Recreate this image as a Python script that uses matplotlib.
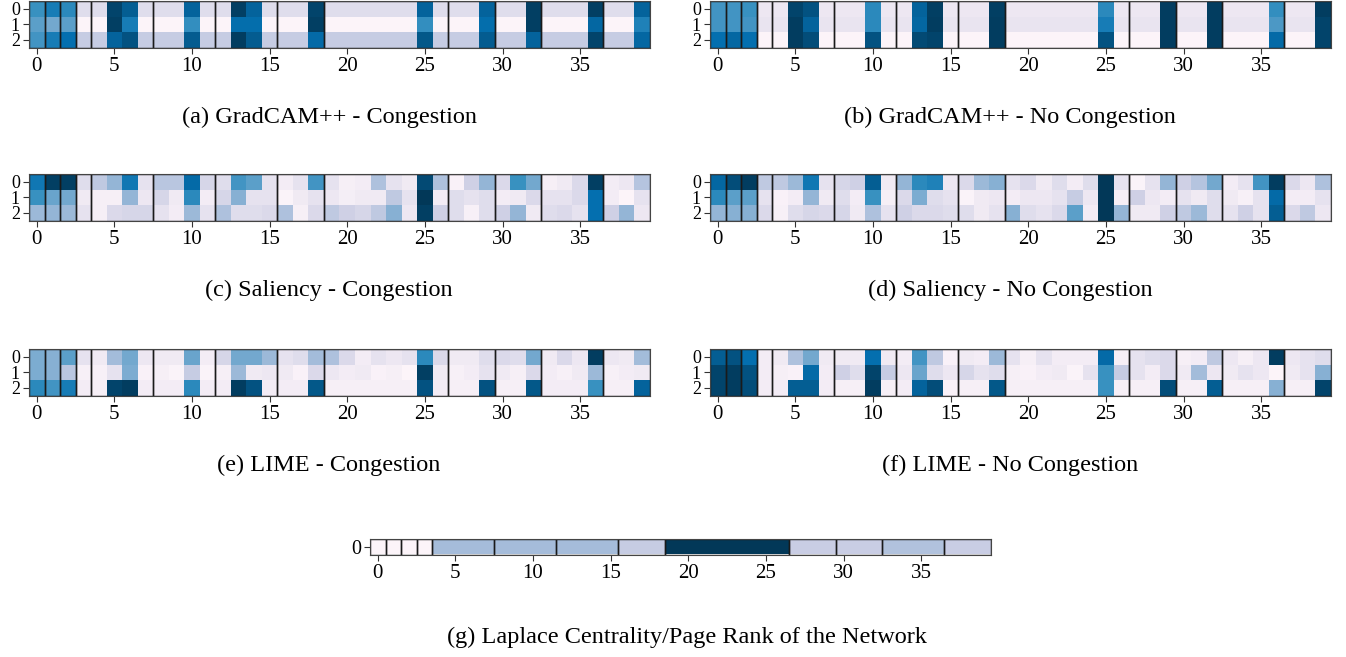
import matplotlib
matplotlib.use('Agg')
import matplotlib.pyplot as plt
import numpy as np
from matplotlib.patches import Rectangle

plt.rcParams['font.family'] = ['Liberation Serif', 'DejaVu Serif']

# node groups (first, last) used for the boxes
groups = [(0, 0), (1, 1), (2, 2), (3, 3), (4, 7), (8, 11), (12, 15), (16, 18),
          (19, 26), (27, 29), (30, 32), (33, 36), (37, 39)]

gradcam_cong = [
    [0.62, 0.70, 0.65, 0.18, 0.18, 0.95, 0.85, 0.18, 0.18, 0.18, 0.82, 0.18, 0.18, 0.97, 0.82, 0.18, 0.18, 0.18, 0.95, 0.18,
     0.18, 0.18, 0.18, 0.18, 0.18, 0.82, 0.18, 0.18, 0.18, 0.82, 0.18, 0.18, 0.97, 0.18, 0.18, 0.18, 0.97, 0.18, 0.18, 0.82],
    [0.55, 0.50, 0.55, 0.02, 0.02, 0.97, 0.70, 0.02, 0.02, 0.02, 0.63, 0.02, 0.02, 0.76, 0.76, 0.02, 0.02, 0.02, 0.97, 0.02,
     0.02, 0.02, 0.02, 0.02, 0.02, 0.63, 0.02, 0.02, 0.02, 0.76, 0.02, 0.02, 0.97, 0.02, 0.02, 0.02, 0.80, 0.02, 0.02, 0.68],
    [0.60, 0.70, 0.75, 0.28, 0.28, 0.82, 0.90, 0.28, 0.28, 0.28, 0.86, 0.28, 0.28, 0.98, 0.86, 0.28, 0.28, 0.28, 0.78, 0.28,
     0.28, 0.28, 0.28, 0.28, 0.28, 0.88, 0.28, 0.28, 0.28, 0.86, 0.28, 0.28, 0.82, 0.28, 0.28, 0.28, 0.95, 0.28, 0.28, 0.80],
]
gradcam_nocong = [
    [0.60, 0.60, 0.62, 0.12, 0.12, 0.95, 0.90, 0.12, 0.12, 0.12, 0.65, 0.12, 0.12, 0.82, 0.97, 0.12, 0.12, 0.12, 0.97, 0.12,
     0.12, 0.12, 0.12, 0.12, 0.12, 0.65, 0.12, 0.12, 0.12, 0.98, 0.12, 0.12, 0.98, 0.12, 0.12, 0.12, 0.63, 0.12, 0.12, 0.98],
    [0.60, 0.60, 0.60, 0.14, 0.14, 0.98, 0.82, 0.14, 0.14, 0.14, 0.65, 0.14, 0.14, 0.80, 0.98, 0.14, 0.14, 0.14, 0.98, 0.14,
     0.14, 0.14, 0.14, 0.14, 0.14, 0.70, 0.14, 0.14, 0.14, 0.98, 0.14, 0.14, 0.98, 0.14, 0.14, 0.14, 0.58, 0.14, 0.14, 0.95],
    [0.75, 0.80, 0.75, 0.02, 0.02, 0.98, 0.92, 0.02, 0.02, 0.02, 0.90, 0.02, 0.02, 0.93, 0.95, 0.02, 0.02, 0.02, 0.98, 0.02,
     0.02, 0.02, 0.02, 0.02, 0.02, 0.90, 0.02, 0.02, 0.02, 0.98, 0.02, 0.02, 0.98, 0.02, 0.02, 0.02, 0.78, 0.02, 0.02, 0.95],
]
saliency_cong = [
    [0.72, 0.97, 0.97, 0.18, 0.30, 0.42, 0.72, 0.15, 0.32, 0.32, 0.78, 0.22, 0.18, 0.60, 0.55, 0.15, 0.08, 0.15, 0.60, 0.15,
     0.06, 0.08, 0.35, 0.15, 0.10, 0.93, 0.35, 0.04, 0.25, 0.42, 0.20, 0.62, 0.50, 0.06, 0.10, 0.20, 0.97, 0.08, 0.12, 0.33],
    [0.62, 0.52, 0.50, 0.10, 0.06, 0.06, 0.42, 0.12, 0.22, 0.10, 0.65, 0.08, 0.22, 0.45, 0.15, 0.15, 0.03, 0.10, 0.15, 0.12,
     0.07, 0.10, 0.10, 0.30, 0.15, 1.00, 0.08, 0.18, 0.15, 0.18, 0.08, 0.10, 0.20, 0.15, 0.15, 0.20, 0.75, 0.08, 0.02, 0.15],
    [0.40, 0.42, 0.40, 0.15, 0.06, 0.20, 0.22, 0.22, 0.15, 0.08, 0.40, 0.15, 0.35, 0.18, 0.18, 0.20, 0.35, 0.06, 0.20, 0.30,
     0.25, 0.22, 0.30, 0.45, 0.12, 0.97, 0.25, 0.18, 0.05, 0.18, 0.25, 0.42, 0.10, 0.18, 0.20, 0.15, 0.75, 0.25, 0.42, 0.12],
]
saliency_nocong = [
    [0.80, 0.92, 0.98, 0.30, 0.30, 0.40, 0.72, 0.15, 0.22, 0.25, 0.85, 0.10, 0.42, 0.65, 0.68, 0.12, 0.20, 0.40, 0.45, 0.15,
     0.20, 0.10, 0.18, 0.08, 0.18, 1.00, 0.15, 0.03, 0.15, 0.42, 0.25, 0.33, 0.50, 0.08, 0.15, 0.60, 0.98, 0.20, 0.12, 0.35],
    [0.65, 0.55, 0.55, 0.15, 0.04, 0.08, 0.42, 0.10, 0.18, 0.08, 0.62, 0.06, 0.20, 0.48, 0.18, 0.15, 0.03, 0.10, 0.12, 0.08,
     0.12, 0.12, 0.15, 0.28, 0.12, 1.00, 0.06, 0.25, 0.12, 0.08, 0.15, 0.10, 0.18, 0.10, 0.05, 0.15, 0.78, 0.08, 0.08, 0.15],
    [0.42, 0.45, 0.45, 0.20, 0.05, 0.18, 0.22, 0.20, 0.22, 0.10, 0.35, 0.15, 0.25, 0.20, 0.20, 0.18, 0.18, 0.10, 0.15, 0.45,
     0.18, 0.15, 0.20, 0.55, 0.08, 1.00, 0.42, 0.10, 0.10, 0.25, 0.30, 0.40, 0.18, 0.15, 0.25, 0.15, 0.85, 0.20, 0.30, 0.12],
]
lime_cong = [
    [0.48, 0.45, 0.55, 0.15, 0.10, 0.38, 0.50, 0.12, 0.10, 0.10, 0.52, 0.08, 0.22, 0.50, 0.50, 0.40, 0.15, 0.18, 0.38, 0.35,
     0.20, 0.08, 0.15, 0.12, 0.15, 0.65, 0.20, 0.10, 0.10, 0.18, 0.20, 0.18, 0.50, 0.10, 0.20, 0.12, 0.98, 0.12, 0.10, 0.38],
    [0.48, 0.45, 0.32, 0.05, 0.05, 0.15, 0.48, 0.04, 0.06, 0.03, 0.28, 0.03, 0.06, 0.40, 0.10, 0.12, 0.10, 0.04, 0.20, 0.12,
     0.08, 0.10, 0.04, 0.06, 0.02, 0.97, 0.10, 0.05, 0.08, 0.15, 0.10, 0.06, 0.20, 0.08, 0.05, 0.10, 0.40, 0.05, 0.08, 0.10],
    [0.65, 0.60, 0.70, 0.08, 0.06, 0.95, 0.98, 0.08, 0.08, 0.08, 0.65, 0.08, 0.08, 0.98, 0.90, 0.08, 0.08, 0.08, 0.88, 0.06,
     0.06, 0.06, 0.06, 0.06, 0.06, 0.90, 0.08, 0.06, 0.06, 0.90, 0.06, 0.06, 0.88, 0.08, 0.08, 0.08, 0.62, 0.06, 0.06, 0.82],
]
lime_nocong = [
    [0.85, 0.90, 0.75, 0.08, 0.10, 0.35, 0.50, 0.10, 0.10, 0.10, 0.75, 0.10, 0.08, 0.60, 0.30, 0.04, 0.10, 0.08, 0.40, 0.15,
     0.06, 0.15, 0.08, 0.08, 0.08, 0.78, 0.06, 0.15, 0.18, 0.20, 0.06, 0.08, 0.30, 0.12, 0.06, 0.12, 0.98, 0.12, 0.15, 0.18],
    [0.95, 0.98, 0.90, 0.08, 0.06, 0.04, 0.78, 0.08, 0.25, 0.18, 0.95, 0.28, 0.12, 0.52, 0.18, 0.12, 0.22, 0.15, 0.18, 0.06,
     0.04, 0.08, 0.10, 0.03, 0.15, 0.62, 0.28, 0.15, 0.08, 0.20, 0.10, 0.38, 0.12, 0.10, 0.15, 0.12, 0.02, 0.10, 0.15, 0.45],
    [0.95, 0.98, 0.92, 0.08, 0.08, 0.85, 0.85, 0.08, 0.06, 0.06, 0.98, 0.06, 0.08, 0.82, 0.92, 0.04, 0.06, 0.06, 0.88, 0.06,
     0.06, 0.06, 0.06, 0.06, 0.06, 0.62, 0.06, 0.06, 0.06, 0.92, 0.06, 0.06, 0.85, 0.06, 0.06, 0.06, 0.45, 0.06, 0.06, 0.95],
]
laplace_rank = [[0.02, 0.02, 0.02, 0.02, 0.375, 0.375, 0.375, 0.375, 0.375, 0.375, 0.375, 0.375, 0.375, 0.375, 0.375, 0.375,
                 0.28, 0.28, 0.28, 1.0, 1.0, 1.0, 1.0, 1.0, 1.0, 1.0, 1.0, 0.27, 0.27, 0.27, 0.27, 0.27, 0.27,
                 0.34, 0.34, 0.34, 0.34, 0.27, 0.27, 0.27]]

captions = ['(a) GradCAM++ - Congestion', '(b) GradCAM++ - No Congestion',
            '(c) Saliency - Congestion', '(d) Saliency - No Congestion',
            '(e) LIME - Congestion', '(f) LIME - No Congestion',
            '(g) Laplace Centrality/Page Rank of the Network']

W, H = 1346, 657
fig = plt.figure(figsize=(W / 100, H / 100), dpi=100)


def panel(data, left, top, width, height, caption, cx, cy, ysize=13):
    ax = fig.add_axes([left / W, 1 - (top + height) / H, width / W, height / H])
    arr = np.array(data)
    ax.imshow(arr, cmap='PuBu', vmin=0, vmax=1, aspect='auto', interpolation='nearest')
    nrows = arr.shape[0]
    for g0, g1 in groups:
        ax.add_patch(Rectangle((g0 - 0.5, -0.5), g1 - g0 + 1, nrows, fill=False,
                               ec='#1a1a1a', lw=1.0))
    ax.set_xticks([0, 5, 10, 15, 20, 25, 30, 35])
    ax.set_yticks(range(nrows))
    ax.tick_params(color='#333333', length=4.5, pad=2)
    ax.tick_params(axis='x', labelsize=15)
    ax.tick_params(axis='y', labelsize=ysize)
    for s in ax.spines.values():
        s.set_color('#444444')
    fig.text(cx / W, 1 - cy / H, caption, ha='center', va='center', fontsize=17.5)
    return ax


heat = [gradcam_cong, gradcam_nocong, saliency_cong, saliency_nocong, lime_cong, lime_nocong]
tops = [1, 174, 349]
for i, d in enumerate(heat):
    r, c = divmod(i, 2)
    left = 29 if c == 0 else 710
    cx = 329 if c == 0 else 1010
    panel(d, left, tops[r], 621, 46.6, captions[i], cx, tops[r] + 116)

panel(laplace_rank, 370, 539, 621, 15.5, captions[6], 687, 637, ysize=14.4)

fig.savefig('out.png', dpi=100)
